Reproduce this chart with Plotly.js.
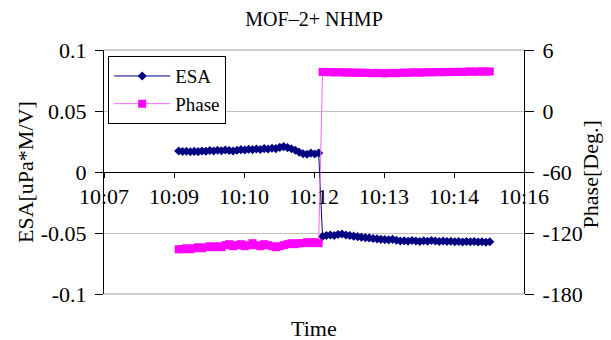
<!DOCTYPE html>
<html>
<head>
<meta charset="utf-8">
<script src="https://cdn.plot.ly/plotly-3.0.1.min.js"></script>
<style>html,body{margin:0;padding:0;background:#fff;}#chart{width:611px;height:340px;}</style>
</head>
<body>
<div id="chart"></div>
<script>
// ---- data ----
const times = [
"10:08:36","10:08:41","10:08:46","10:08:51","10:08:56",
"10:09:01","10:09:06","10:09:11","10:09:16","10:09:21","10:09:26","10:09:31","10:09:36","10:09:41","10:09:46","10:09:51","10:09:56",
"10:10:01","10:10:06","10:10:11","10:10:16","10:10:21","10:10:26","10:10:31","10:10:36","10:10:41","10:10:46","10:10:51","10:10:56",
"10:11:01","10:11:06","10:11:11","10:11:16","10:11:21","10:11:26","10:11:31","10:11:36",
"10:11:41","10:11:46","10:11:51","10:11:56",
"10:12:01","10:12:06","10:12:11","10:12:16","10:12:21","10:12:26","10:12:31","10:12:36","10:12:41","10:12:46","10:12:51","10:12:56",
"10:13:01","10:13:06","10:13:11","10:13:16","10:13:21","10:13:26","10:13:31","10:13:36","10:13:41","10:13:46","10:13:51","10:13:56",
"10:14:01","10:14:06","10:14:11","10:14:16","10:14:21","10:14:26","10:14:31","10:14:36","10:14:41","10:14:46","10:14:51","10:14:56",
"10:15:01","10:15:06","10:15:11","10:15:16"
];
const esa = [
0.0172,0.0168,0.0170,0.0166,0.0169,0.0167,0.0172,0.0170,0.0176,0.0172,
0.0178,0.0174,0.0180,0.0176,0.0172,0.0178,0.0183,0.0180,0.0186,0.0183,
0.0188,0.0185,0.0192,0.0188,0.0195,0.0192,0.0202,0.0208,0.0200,0.0190,
0.0178,0.0162,0.0150,0.0146,0.0155,0.0148,0.0156,
-0.0528,-0.0520,-0.0516,-0.0520,-0.0512,-0.0508,-0.0516,-0.0520,-0.0526,-0.0530,
-0.0534,-0.0538,-0.0540,-0.0545,-0.0548,-0.0552,-0.0554,-0.0556,-0.0552,-0.0560,
-0.0566,-0.0564,-0.0568,-0.0562,-0.0566,-0.0570,-0.0564,-0.0568,-0.0562,-0.0566,
-0.0570,-0.0566,-0.0570,-0.0568,-0.0572,-0.0570,-0.0574,-0.0570,-0.0572,-0.0570,
-0.0574,-0.0572,-0.0576,-0.0572
];
const phase = [
-136,-136,-135,-136,-135,-134,-135,-134,-133,-134,
-133,-134,-132,-131,-133,-132,-131,-133,-132,-130,
-132,-133,-131,-132,-133,-134,-133,-132,-131,-130,
-131,-130,-130,-129,-130,-129,-130,
38.5,38.3,38.2,38.0,38.2,38.0,37.8,38.0,37.6,37.8,
37.5,37.7,37.4,37.2,37.5,37.3,37.0,37.3,37.5,37.2,
37.5,37.8,37.6,37.9,38.0,37.7,38.0,38.2,38.0,38.3,
38.1,38.4,38.2,38.5,38.3,38.6,38.4,38.7,38.9,38.6,
38.8,39.0,38.7,38.9
];
const xTickTimes = ["10:07:00","10:08:30","10:10:00","10:11:30","10:13:00","10:14:30","10:16:00"];
const xTickLabels = ["10:07","10:09","10:10","10:12","10:13","10:14","10:16"];
const esaTicks = [0.1,0.05,0,-0.05,-0.1];
const esaTickLabels = ["0.1","0.05","0","-0.05","-0.1"];
const phaseTicks = [60,0,-60,-120,-180];
const phaseTickLabels = ["6","0","-60","-120","-180"];

function toMin(s){const p=s.split(":").map(Number);return p[0]*60+p[1]+p[2]/60;}
const tx = times.map(toMin);
const xtv = xTickTimes.map(toMin);

const FONT = "Liberation Serif, Times New Roman, serif";
const FS = 22;
const traces = [
  {x: tx, y: esa, name: "ESA", type: "scatter", mode: "lines+markers",
   line: {color: "#000080", width: 1},
   marker: {symbol: "diamond", size: 7, color: "#000080"}},
  {x: tx, y: phase, name: "Phase", type: "scatter", mode: "lines+markers", yaxis: "y2",
   line: {color: "#ff66ff", width: 1},
   marker: {symbol: "square", size: 8, color: "#ff00ff"}}
];
const layout = {
  width: 611, height: 340,
  margin: {l: 104, r: 87, t: 50, b: 46},
  paper_bgcolor: "#fff", plot_bgcolor: "#fff",
  font: {family: FONT, size: FS, color: "#000"},
  title: {text: "MOF–2+ NHMP", x: 0.514, xanchor: "center", y: 0.945, yanchor: "middle", font: {family: FONT, size: 20}},
  showlegend: true,
  legend: {x: 0.01, y: 0.975, xanchor: "left", yanchor: "top", bgcolor: "#fff",
           bordercolor: "#000", borderwidth: 1, font: {family: FONT, size: 19},
           tracegroupgap: 0, itemwidth: 56},
  xaxis: {range: [xtv[0], xtv[xtv.length-1]], tickvals: xtv, ticktext: xTickLabels,
          anchor: "free", position: 0.5, showline: true, linecolor: "#000", linewidth: 1,
          ticks: "outside", ticklen: 5, tickcolor: "#000", showgrid: false, zeroline: false,
          tickfont: {family: FONT, size: FS}},
  yaxis: {range: [-0.1, 0.1], tickvals: esaTicks, ticktext: esaTickLabels,
          showline: true, linecolor: "#000", linewidth: 1, ticks: "outside", ticklen: 8, tickcolor: "#000",
          ticklabelstandoff: 4,
          showgrid: true, gridcolor: "#c0c0c0", zeroline: false,
          tickfont: {family: FONT, size: FS}},
  yaxis2: {range: [-180, 60], tickvals: phaseTicks, ticktext: phaseTickLabels, overlaying: "y", side: "right",
          showline: true, linecolor: "#000", linewidth: 1, ticks: "outside", ticklen: 9, tickcolor: "#000",
          ticklabelstandoff: 4,
          showgrid: false, zeroline: false,
          tickfont: {family: FONT, size: FS}},
  annotations: [
    {text: "Time", xref: "paper", yref: "paper", x: 0.5, y: -0.14, xanchor: "center", yanchor: "middle",
     showarrow: false, font: {family: FONT, size: FS}},
    {text: "ESA[uPa*M/V]", xref: "paper", yref: "paper", x: -0.188, y: 0.5, xanchor: "center", yanchor: "middle",
     textangle: -90, showarrow: false, font: {family: FONT, size: FS}},
    {text: "Phase[Deg.]", xref: "paper", yref: "paper", x: 1.157, y: 0.49, xanchor: "center", yanchor: "middle",
     textangle: -90, showarrow: false, font: {family: FONT, size: FS}}
  ],
  shapes: [
    {type: "line", xref: "paper", yref: "paper", x0: 0, x1: 1, y0: 1, y1: 1, line: {color: "#a0a0a0", width: 1}},
    {type: "line", xref: "paper", yref: "paper", x0: 0, x1: 1, y0: 0, y1: 0, line: {color: "#a0a0a0", width: 1}}
  ]
};
Plotly.newPlot("chart", traces, layout, {displayModeBar: false, staticPlot: true});
</script>
</body>
</html>
